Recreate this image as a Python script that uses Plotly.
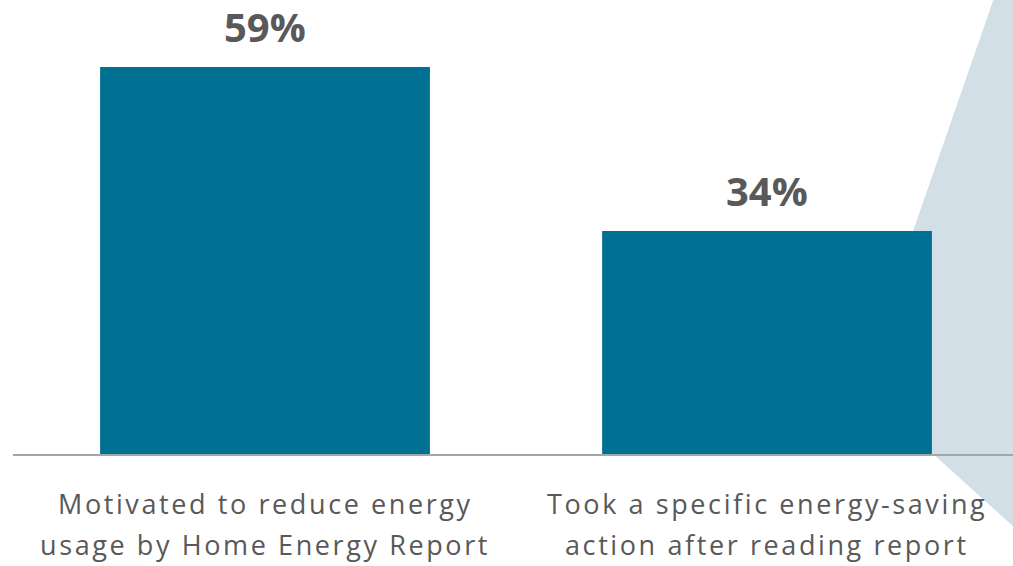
import plotly.graph_objects as go

categories = ["Motivated to reduce energy<br>usage by Home Energy Report",
              "Took a specific energy-saving<br>action after reading report"]
label_lines = [["Motivated to reduce energy", "usage by Home Energy Report"],
               ["Took a specific energy-saving", "action after reading report"]]
values = [59, 34]
value_labels = ["59%", "34%"]

BAR = "#007192"
TXT = "#595959"
W, H = 1013, 566
L, R, T, B = 13, 0, 0, 112

fig = go.Figure()
fig.add_trace(go.Bar(x=[0, 1], y=values, marker=dict(color=BAR, line=dict(width=0)),
                     width=0.657, hoverinfo="skip"))

# callout shape (pixel -> paper)
def px(x): return (x - L) / (W - L - R)
def py(y): return (H - B - y) / (H - B - T)
pts = [(994, -2), (1015, -2), (1015, 528), (859, 387)]
path = "M " + " L ".join(f"{px(x)},{py(y)}" for x, y in pts) + " Z"
fig.add_shape(type="path", path=path, xref="paper", yref="paper",
              fillcolor="#D2DFE7", line=dict(width=0), layer="below")

ann = []
for i, (v, t) in enumerate(zip(values, value_labels)):
    ann.append(dict(x=i, y=v, xref="x", yref="y", text=f"<b>{t}</b>", showarrow=False,
                    yanchor="bottom", yshift=11,
                    font=dict(family="Open Sans", size=40, color=TXT)))
for i, lines in enumerate(label_lines):
    for j, ln in enumerate(lines):
        ann.append(dict(x=i, y=0, xref="x", yref="y",
                        text=f'<span style="letter-spacing:2.6px">{ln}</span>',
                        showarrow=False,
                        yanchor="middle", yshift=-(49 + 41 * j),
                        font=dict(family="Open Sans", size=27, color=TXT)))

fig.update_layout(
    width=W, height=H, margin=dict(l=L, r=R, t=T, b=B),
    paper_bgcolor="white", plot_bgcolor="rgba(0,0,0,0)",
    showlegend=False, annotations=ann,
    xaxis=dict(range=[-0.502, 1.490], showticklabels=False, ticks="", showgrid=False,
               zeroline=False, showline=True, linecolor="#A6A6A6", linewidth=2, fixedrange=True),
    yaxis=dict(range=[0, 69.2], visible=False, showgrid=False, zeroline=False, fixedrange=True),
)
fig.write_html("out.html", config={"displayModeBar": False})
